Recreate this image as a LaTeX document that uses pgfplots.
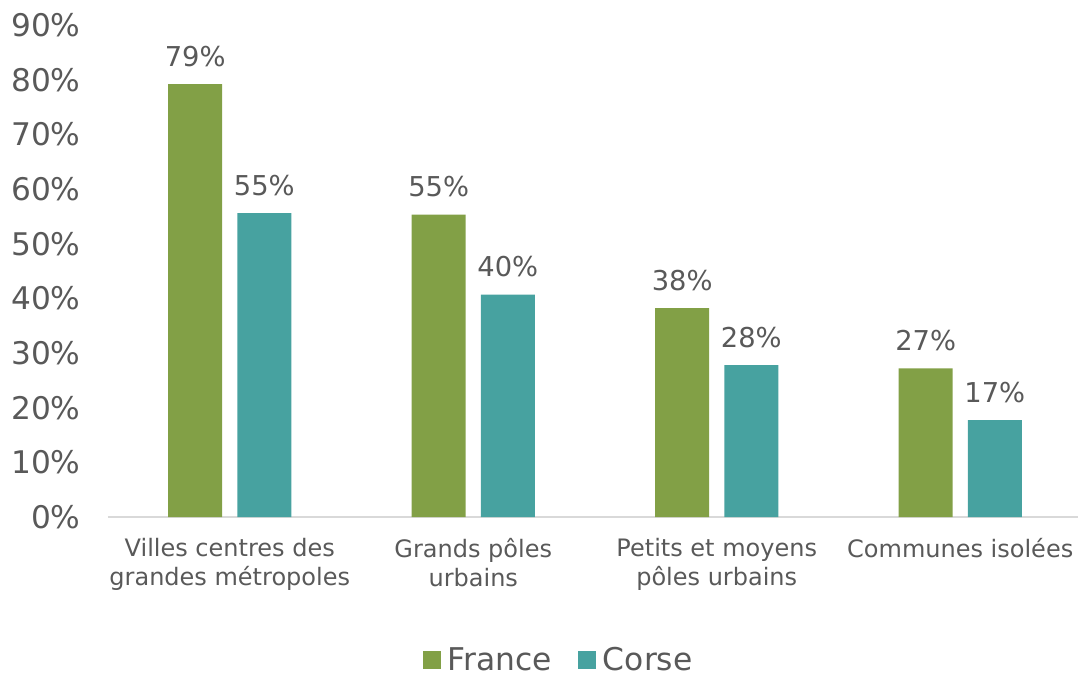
\documentclass[border=0pt]{standalone}
\usepackage{pgfplots}
\pgfplotsset{compat=1.18}
\usepackage{fontspec}
\setmainfont{DejaVu Sans}
\definecolor{fr}{HTML}{82A046}
\definecolor{co}{HTML}{47A2A0}
\definecolor{txt}{HTML}{595959}
\definecolor{axl}{HTML}{D9D9D9}
\begin{document}
\begin{tikzpicture}[x=0.75pt,y=0.75pt]
\begin{axis}[
  at={(0,0)}, anchor=south west,
  scale only axis,
  width=730.5pt, height=369pt,
  xmin=-0.5, xmax=3.5, ymin=0, ymax=90,
  axis lines*=left,
  x axis line style={axl, line width=1.5pt, -},
  y axis line style={draw=none},
  xtick=data, xtick style={draw=none},
  xticklabels={{Villes centres des\\grandes métropoles},{Grands pôles\\urbains},{Petits et moyens\\pôles urbains},{Communes isolées}},
  xticklabel style={align=center, text=txt, font=\fontsize{18pt}{21.75pt}\selectfont, yshift=-8.5pt},
  ytick={0,10,...,90}, ytick style={draw=none},
  yticklabel={\pgfmathprintnumber{\tick}\%},
  yticklabel style={text=txt, font=\fontsize{23.4pt}{26pt}\selectfont, xshift=-17pt},
  /pgf/number format/assume math mode=true,
  ybar, bar width=40.5pt,
  enlarge x limits=false,
  clip=false,
  nodes near coords,
  point meta=explicit symbolic,
  every node near coord/.append style={text=txt, font=\fontsize{20.5pt}{23pt}\selectfont, yshift=9.5pt},
  legend style={at={(0.463,-0.29)}, anchor=center, draw=none, inner sep=0pt, legend columns=2, font=\fontsize{23.5pt}{27pt}\selectfont, text=txt, /tikz/every even column/.append style={column sep=18pt}, /tikz/every odd column/.append style={column sep=0pt}},
  legend image code/.code={\fill[#1] (0pt,-6.75pt) rectangle (13.5pt,6.75pt);},
  legend cell align=left,
]
\addplot[fill=fr, draw=none, bar shift=-25.9pt] coordinates {(0,79.2)[79\%] (1,55.3)[55\%] (2,38.2)[38\%] (3,27.2)[27\%]};
\addplot[fill=co, draw=none, bar shift=25.9pt] coordinates {(0,55.6)[55\%] (1,40.7)[40\%] (2,27.8)[28\%] (3,17.7)[17\%]};
\legend{\hspace{3pt}France,\hspace{3pt}Corse}
\end{axis}
\pgfresetboundingbox
\path[use as bounding box] (-108,-162) rectangle (970,517);
\end{tikzpicture}
\end{document}
